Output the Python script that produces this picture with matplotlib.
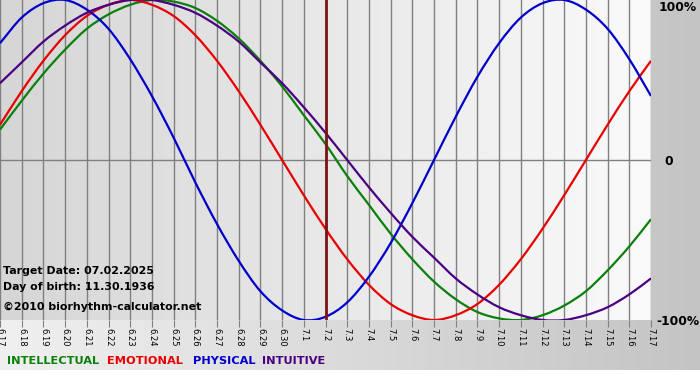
import numpy as np
import matplotlib
matplotlib.use('Agg')
from matplotlib import pyplot as plt
from matplotlib.colors import LinearSegmentedColormap
from matplotlib.path import Path
from matplotlib.patches import PathPatch

# day labels 6.17 .. 7.17
dates = ['6.%d' % d for d in range(17, 31)] + ['7.%d' % d for d in range(1, 18)]
target = '7.2'

# values (-1 .. 1)
physical = [0.73, 0.89, 0.98, 1.00, 0.94, 0.82, 0.63, 0.40, 0.14, -0.14,
            -0.40, -0.63, -0.82, -0.94, -1.00, -0.98, -0.89, -0.73, -0.52, -0.27,
            0.00, 0.27, 0.52, 0.73, 0.89, 0.98, 1.00, 0.94, 0.82, 0.63, 0.40]
emotional = [0.22, 0.43, 0.62, 0.78, 0.90, 0.97, 1.00, 0.97, 0.90, 0.78,
             0.62, 0.43, 0.22, 0.00, -0.22, -0.43, -0.62, -0.78, -0.90, -0.97,
             -1.00, -0.97, -0.90, -0.78, -0.62, -0.43, -0.22, 0.00, 0.22, 0.43, 0.62]
intellectual = [0.19, 0.37, 0.54, 0.69, 0.82, 0.91, 0.97, 1.00, 0.99, 0.95,
                0.87, 0.76, 0.62, 0.46, 0.28, 0.10, -0.10, -0.28, -0.46, -0.62,
                -0.76, -0.87, -0.95, -0.99, -1.00, -0.97, -0.91, -0.82, -0.69, -0.54, -0.37]
intuitive = [0.48, 0.61, 0.74, 0.84, 0.92, 0.97, 1.00, 1.00, 0.97, 0.92,
             0.84, 0.74, 0.61, 0.48, 0.33, 0.17, 0.00, -0.17, -0.33, -0.48,
             -0.61, -0.74, -0.84, -0.92, -0.97, -1.00, -1.00, -0.97, -0.92, -0.84, -0.74]

series = [('INTELLECTUAL', intellectual, '#0a800a'),
          ('EMOTIONAL', emotional, '#e80000'),
          ('PHYSICAL', physical, '#0000cc'),
          ('INTUITIVE', intuitive, '#4b0082')]


def smooth_path(xs, ys):
    # bezier curve through the daily points (catmull-rom style handles)
    p = np.column_stack([xs, ys]).astype(float)
    ext = np.vstack([2 * p[0] - p[1], p, 2 * p[-1] - p[-2]])
    verts = [p[0]]
    codes = [Path.MOVETO]
    for i in range(1, len(ext) - 2):
        c1 = ext[i] + (ext[i + 1] - ext[i - 1]) / 6
        c2 = ext[i + 1] - (ext[i + 2] - ext[i]) / 6
        verts += [c1, c2, ext[i + 1]]
        codes += [Path.CURVE4] * 3
    return Path(verts, codes)


W, H = 700, 380
fig = plt.figure(figsize=(7, 3.8), dpi=100)

# background panel (light left -> gray right), white strip at bottom
bg = fig.add_axes([0, 0, 1, 1])
bg.axis('off')
bg.set_xlim(0, 1)
bg.set_ylim(0, 1)
grad = np.linspace(0, 1, 256).reshape(1, -1)
cm_bg = LinearSegmentedColormap.from_list('bg', ['#f0f0f0', '#c4c4c4'])
bg.imshow(grad, cmap=cm_bg, extent=[0, 1, 10 / H, 1], aspect='auto')

# plot area
ax = fig.add_axes([0, 1 - 320 / H, 651 / W, 320 / H])
x = np.arange(len(dates))
ax.set_xlim(0, len(dates) - 1)
ax.set_ylim(-1, 1)
cm_pl = LinearSegmentedColormap.from_list('pl', ['#d6d6d6', '#fafafa'])
ax.imshow(grad, cmap=cm_pl, extent=[0, len(dates) - 1, -1, 1], aspect='auto', zorder=0)
for s in ax.spines.values():
    s.set_visible(False)

ax.set_xticks(x)
ax.set_xticklabels(dates, rotation=-90, fontsize=6)
ax.tick_params(axis='x', direction='out', length=5, color='#808080', pad=1)
ax.set_yticks([])
ax.grid(axis='x', color='#808080', lw=1, zorder=1)
ax.axhline(0, color='#808080', lw=1, zorder=1)

for name, vals, col in series:
    ax.add_patch(PathPatch(smooth_path(x, vals), fill=False, edgecolor=col,
                           lw=1.6, zorder=3, clip_on=True))

ax.axvline(dates.index(target), color='#7a1414', lw=2, zorder=4)

# right side labels
ax.text(1.012, 0.998, '100%', transform=ax.transAxes, ha='left', va='top',
        fontsize=8.8, fontweight='bold')
ax.text(1.021, 0.495, '0', transform=ax.transAxes, ha='left', va='center',
        fontsize=8.8, fontweight='bold')
ax.text(1.009, -0.006, '-100%', transform=ax.transAxes, ha='left', va='center',
        fontsize=8.8, fontweight='bold')

# info text
info = ['Target Date: 07.02.2025', 'Day of birth: 11.30.1936', '\u00a92010 biorhythm-calculator.net']
for txt, yy in zip(info, [271, 287, 307]):
    fig.text(3 / W, 1 - yy / H, txt, ha='left', va='center', fontsize=7.9, fontweight='bold')

# legend
for (name, vals, col), xx in zip(series, [7, 107, 193, 262]):
    fig.text(xx / W, 1 - 361 / H, name, color=col, ha='left', va='center',
             fontsize=8.2, fontweight='bold')

fig.savefig('out.png', dpi=100)
